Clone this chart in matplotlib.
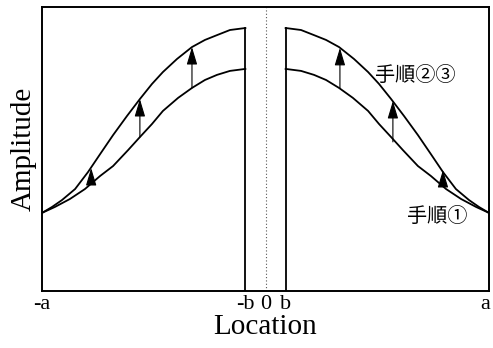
import matplotlib
matplotlib.use("Agg")
import matplotlib.pyplot as plt
from matplotlib.transforms import ScaledTranslation

# Location axis: -a .. a mapped to -1 .. 1, shield half-width b
a = 1.0
b = 0.09

# Upper curve (after steps 2 and 3), left half
x_upper_left = [-1.0, -0.955, -0.911, -0.852, -0.794, -0.740, -0.682, -0.620, -0.562,
                -0.508, -0.459, -0.396, -0.329, -0.271, -0.217, -0.159, -0.09]
y_upper_left = [0.275, 0.296, 0.320, 0.359, 0.419, 0.482, 0.549, 0.616, 0.676,
                0.729, 0.771, 0.817, 0.859, 0.884, 0.901, 0.919, 0.926]

# Lower curve (step 1), left half
x_lower_left = [-1.0, -0.942, -0.875, -0.808, -0.740, -0.682, -0.615, -0.562,
                -0.508, -0.459, -0.391, -0.329, -0.271, -0.217, -0.159, -0.09]
y_lower_left = [0.275, 0.296, 0.324, 0.359, 0.405, 0.440, 0.496, 0.542,
                0.588, 0.634, 0.680, 0.715, 0.743, 0.761, 0.775, 0.782]

# Right halves
x_upper_right = [0.09, 0.159, 0.217, 0.271, 0.329, 0.396, 0.459, 0.508, 0.562,
                 0.620, 0.682, 0.740, 0.794, 0.852, 0.911, 0.955, 1.0]
y_upper_right = [0.926, 0.919, 0.901, 0.884, 0.859, 0.817, 0.771, 0.729, 0.676,
                 0.616, 0.549, 0.482, 0.419, 0.359, 0.320, 0.296, 0.275]
x_lower_right = [0.09, 0.159, 0.217, 0.271, 0.329, 0.391, 0.459, 0.508,
                 0.562, 0.615, 0.682, 0.740, 0.808, 0.875, 0.942, 1.0]
y_lower_right = [0.782, 0.775, 0.761, 0.743, 0.715, 0.680, 0.634, 0.588,
                 0.542, 0.496, 0.440, 0.405, 0.359, 0.324, 0.296, 0.275]

# Arrows lifting the lower curve to the upper curve
arrow_x = [-0.780, -0.562, -0.329, 0.333, 0.570, 0.794]
arrow_base = [0.384, 0.542, 0.715, 0.715, 0.525, 0.380]
arrow_tip = [0.433, 0.676, 0.859, 0.856, 0.669, 0.426]

tick_pos = [-a, -b, 0.0, b, a]
tick_text = ["-a", "-b", "0", "b", "a"]

serif = ["Liberation Serif", "DejaVu Serif"]
jp = ["Noto Sans CJK JP", "DejaVu Sans"]

fig = plt.figure(figsize=(4.93, 3.48), dpi=100)
ax = fig.add_axes([42 / 493, 57 / 348, 447 / 493, 284 / 348])

lw_curve = 1.3
kw = dict(color="black", lw=lw_curve, solid_joinstyle="round")
ax.plot(x_upper_left, y_upper_left, **kw)
ax.plot(x_lower_left, y_lower_left, **kw)
ax.plot(x_upper_right, y_upper_right, **kw)
ax.plot(x_lower_right, y_lower_right, **kw)

# Shield edges at -b and b
ax.plot([-b, -b], [0, y_upper_left[-1]], color="black", lw=1.3)
ax.plot([b, b], [0, y_upper_right[0]], color="black", lw=1.3)

# Centre line
ax.axvline(0.0, color="#555555", lw=0.8, ls=(0, (1, 2)))

for x, y0, y1 in zip(arrow_x, arrow_base, arrow_tip):
    ax.annotate("", xy=(x, y1), xytext=(x, y0),
                arrowprops=dict(arrowstyle="-|>,head_length=0.9,head_width=0.27",
                                color="black", lw=0.8, shrinkA=0, shrinkB=0,
                                mutation_scale=12))

ax.text(0.49, 0.76, "手順②③", family=jp, fontsize=14.5, ha="left", va="center")
ax.text(0.633, 0.264, "手順①", family=jp, fontsize=14.5, ha="left", va="center")

ax.set_xlim(-a, a)
ax.set_ylim(0, 1)
ax.set_xticks(tick_pos)
ax.set_xticklabels(tick_text, family=serif, fontsize=16)
ax.set_yticks([])
ax.tick_params(axis="x", length=0, pad=3)
for s in ax.spines.values():
    s.set_linewidth(1.4)

# keep the rightmost label inside the canvas
last = ax.get_xticklabels()[-1]
last.set_transform(last.get_transform() + ScaledTranslation(-3 / 72, 0, fig.dpi_scale_trans))

ax.set_xlabel("Location", family=serif, fontsize=21, labelpad=0)
ax.set_ylabel("Amplitude", family=serif, fontsize=21, labelpad=4)

fig.savefig("out.png", dpi=100)
